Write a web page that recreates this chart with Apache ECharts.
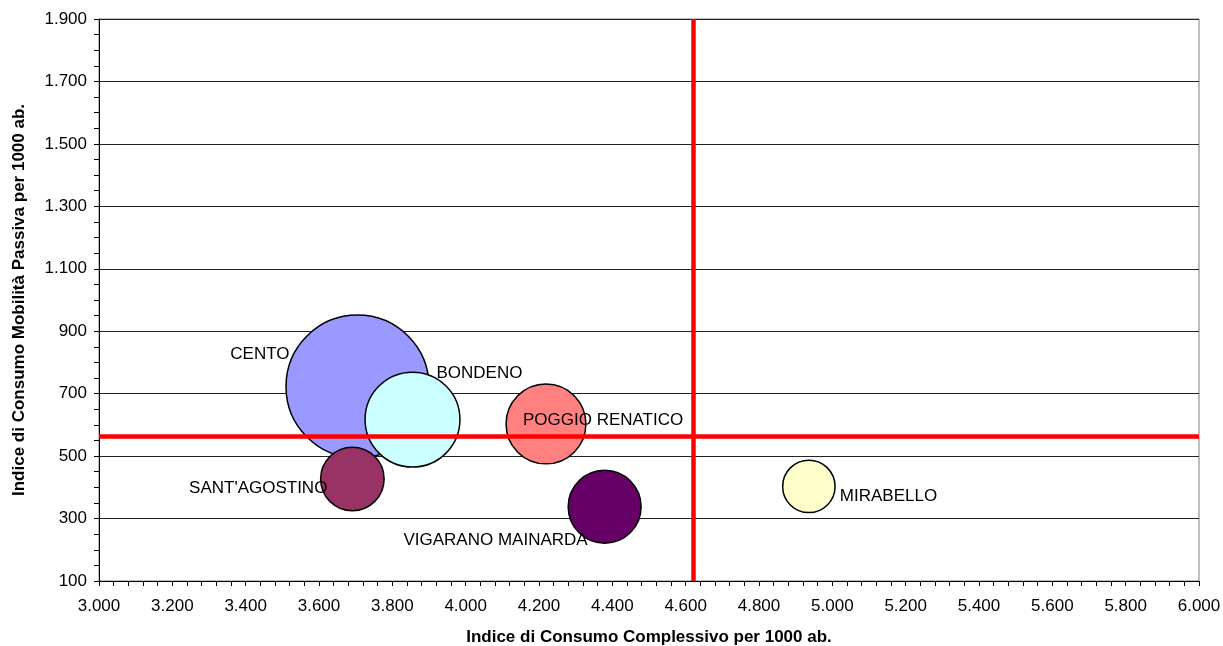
<!DOCTYPE html>
<html>
<head>
<meta charset="utf-8">
<script src="https://cdn.jsdelivr.net/npm/echarts@6/dist/echarts.min.js"></script>
<style>
html,body{margin:0;padding:0;background:#fff;}
#chart{width:1223px;height:646px;}
</style>
</head>
<body>
<div id="chart"></div>
<script>
// ---- data ----
const comuni = ["CENTO", "BONDENO", "SANT'AGOSTINO", "POGGIO RENATICO", "VIGARANO MAINARDA", "MIRABELLO"];
const consumoComplessivo = [3705, 3855, 3691, 4219, 4379, 4936];
const consumoMobilitaPassiva = [723, 617, 427, 603, 338, 403];
const popolazione = [35000, 15400, 6900, 10900, 9100, 4700];
const mediaConsumoComplessivo = 4620;
const mediaMobilitaPassiva = 563;
const xTicks = { min: 3000, max: 6000, interval: 200 };
const yTicks = { min: 100, max: 1900, interval: 200 };
const xTitle = "Indice di Consumo Complessivo per 1000 ab.";
const yTitle = "Indice di Consumo Mobilità Passiva per 1000 ab.";

// ---- styles ----
const bubbleColors = ["#9999FF", "#CCFFFF", "#993366", "#FF8080", "#660066", "#FFFFCC"];
const labelPlacement = [
  { align: "right", offset: [-68, -32] },
  { align: "left", offset: [24, -46] },
  { align: "right", offset: [-25, 9] },
  { align: "left", offset: [-23, -4] },
  { align: "right", offset: [-17, 34] },
  { align: "left", offset: [31, 10] }
];
const maxDiameter = 143;
const FONT = "'Liberation Sans', Arial, sans-serif";

const maxPop = Math.max.apply(null, popolazione);
const order = comuni.map((_, i) => i).sort((a, b) => popolazione[b] - popolazione[a]);
const bubbleData = order.map(i => ({
  name: comuni[i],
  value: [consumoComplessivo[i], consumoMobilitaPassiva[i], popolazione[i]],
  itemStyle: { color: bubbleColors[i] },
  label: {
    show: true,
    position: "inside",
    formatter: comuni[i],
    align: labelPlacement[i].align,
    verticalAlign: "middle",
    offset: labelPlacement[i].offset
  }
}));

function fmt(v) {
  return String(v).replace(/\B(?=(\d{3})+(?!\d))/g, ".");
}

const chart = echarts.init(document.getElementById("chart"), null, { renderer: "canvas" });
chart.setOption({
  animation: false,
  backgroundColor: "#ffffff",
  grid: {
    left: 99, right: 24, top: 19, bottom: 65,
    outerBoundsMode: "none",
    containLabel: false,
    show: true, borderColor: "#808080", borderWidth: 1, backgroundColor: "transparent"
  },
  xAxis: {
    type: "value",
    min: xTicks.min, max: xTicks.max, interval: xTicks.interval,
    name: xTitle, nameLocation: "middle", nameGap: 48,
    nameTextStyle: { fontFamily: FONT, fontSize: 17, fontWeight: "bold", color: "#000" },
    axisLine: { show: true, lineStyle: { color: "#000", width: 1 } },
    axisTick: { show: true, length: 5, inside: false, lineStyle: { color: "#000" } },
    minorTick: { show: true, splitNumber: 5, length: 5, lineStyle: { color: "#000" } },
    splitLine: { show: false },
    axisLabel: { formatter: fmt, fontFamily: FONT, fontSize: 17, color: "#000", margin: 17, showMinLabel: true, showMaxLabel: true }
  },
  yAxis: {
    type: "value",
    min: yTicks.min, max: yTicks.max, interval: yTicks.interval,
    name: yTitle, nameLocation: "middle", nameGap: 71, nameRotate: 90,
    nameTextStyle: { fontFamily: FONT, fontSize: 17, fontWeight: "bold", color: "#000" },
    axisLine: { show: true, lineStyle: { color: "#000", width: 1 } },
    axisTick: { show: true, length: 5, inside: false, lineStyle: { color: "#000" } },
    minorTick: { show: true, splitNumber: 4, length: 5, lineStyle: { color: "#000" } },
    splitLine: { show: true, lineStyle: { color: "#222", width: 1 } },
    axisLabel: { formatter: fmt, fontFamily: FONT, fontSize: 17, color: "#000", margin: 12, showMinLabel: true, showMaxLabel: true }
  },
  series: [
    {
      type: "scatter",
      name: "Comuni",
      z: 2,
      data: bubbleData,
      symbol: "circle",
      symbolSize: function (val) { return maxDiameter * Math.sqrt(val[2] / maxPop); },
      itemStyle: { borderColor: "#000", borderWidth: 1.5, opacity: 1 },
      label: { fontFamily: FONT, fontSize: 17, color: "#000" },
      emphasis: { disabled: true }
    },
    {
      type: "line",
      name: "Medie",
      z: 5,
      data: [],
      markLine: {
        silent: true,
        symbol: ["none", "none"],
        label: { show: false },
        lineStyle: { color: "#FF0000", width: 4.5, type: "solid" },
        data: [{ xAxis: mediaConsumoComplessivo }, { yAxis: mediaMobilitaPassiva }]
      }
    }
  ]
});
</script>
</body>
</html>
